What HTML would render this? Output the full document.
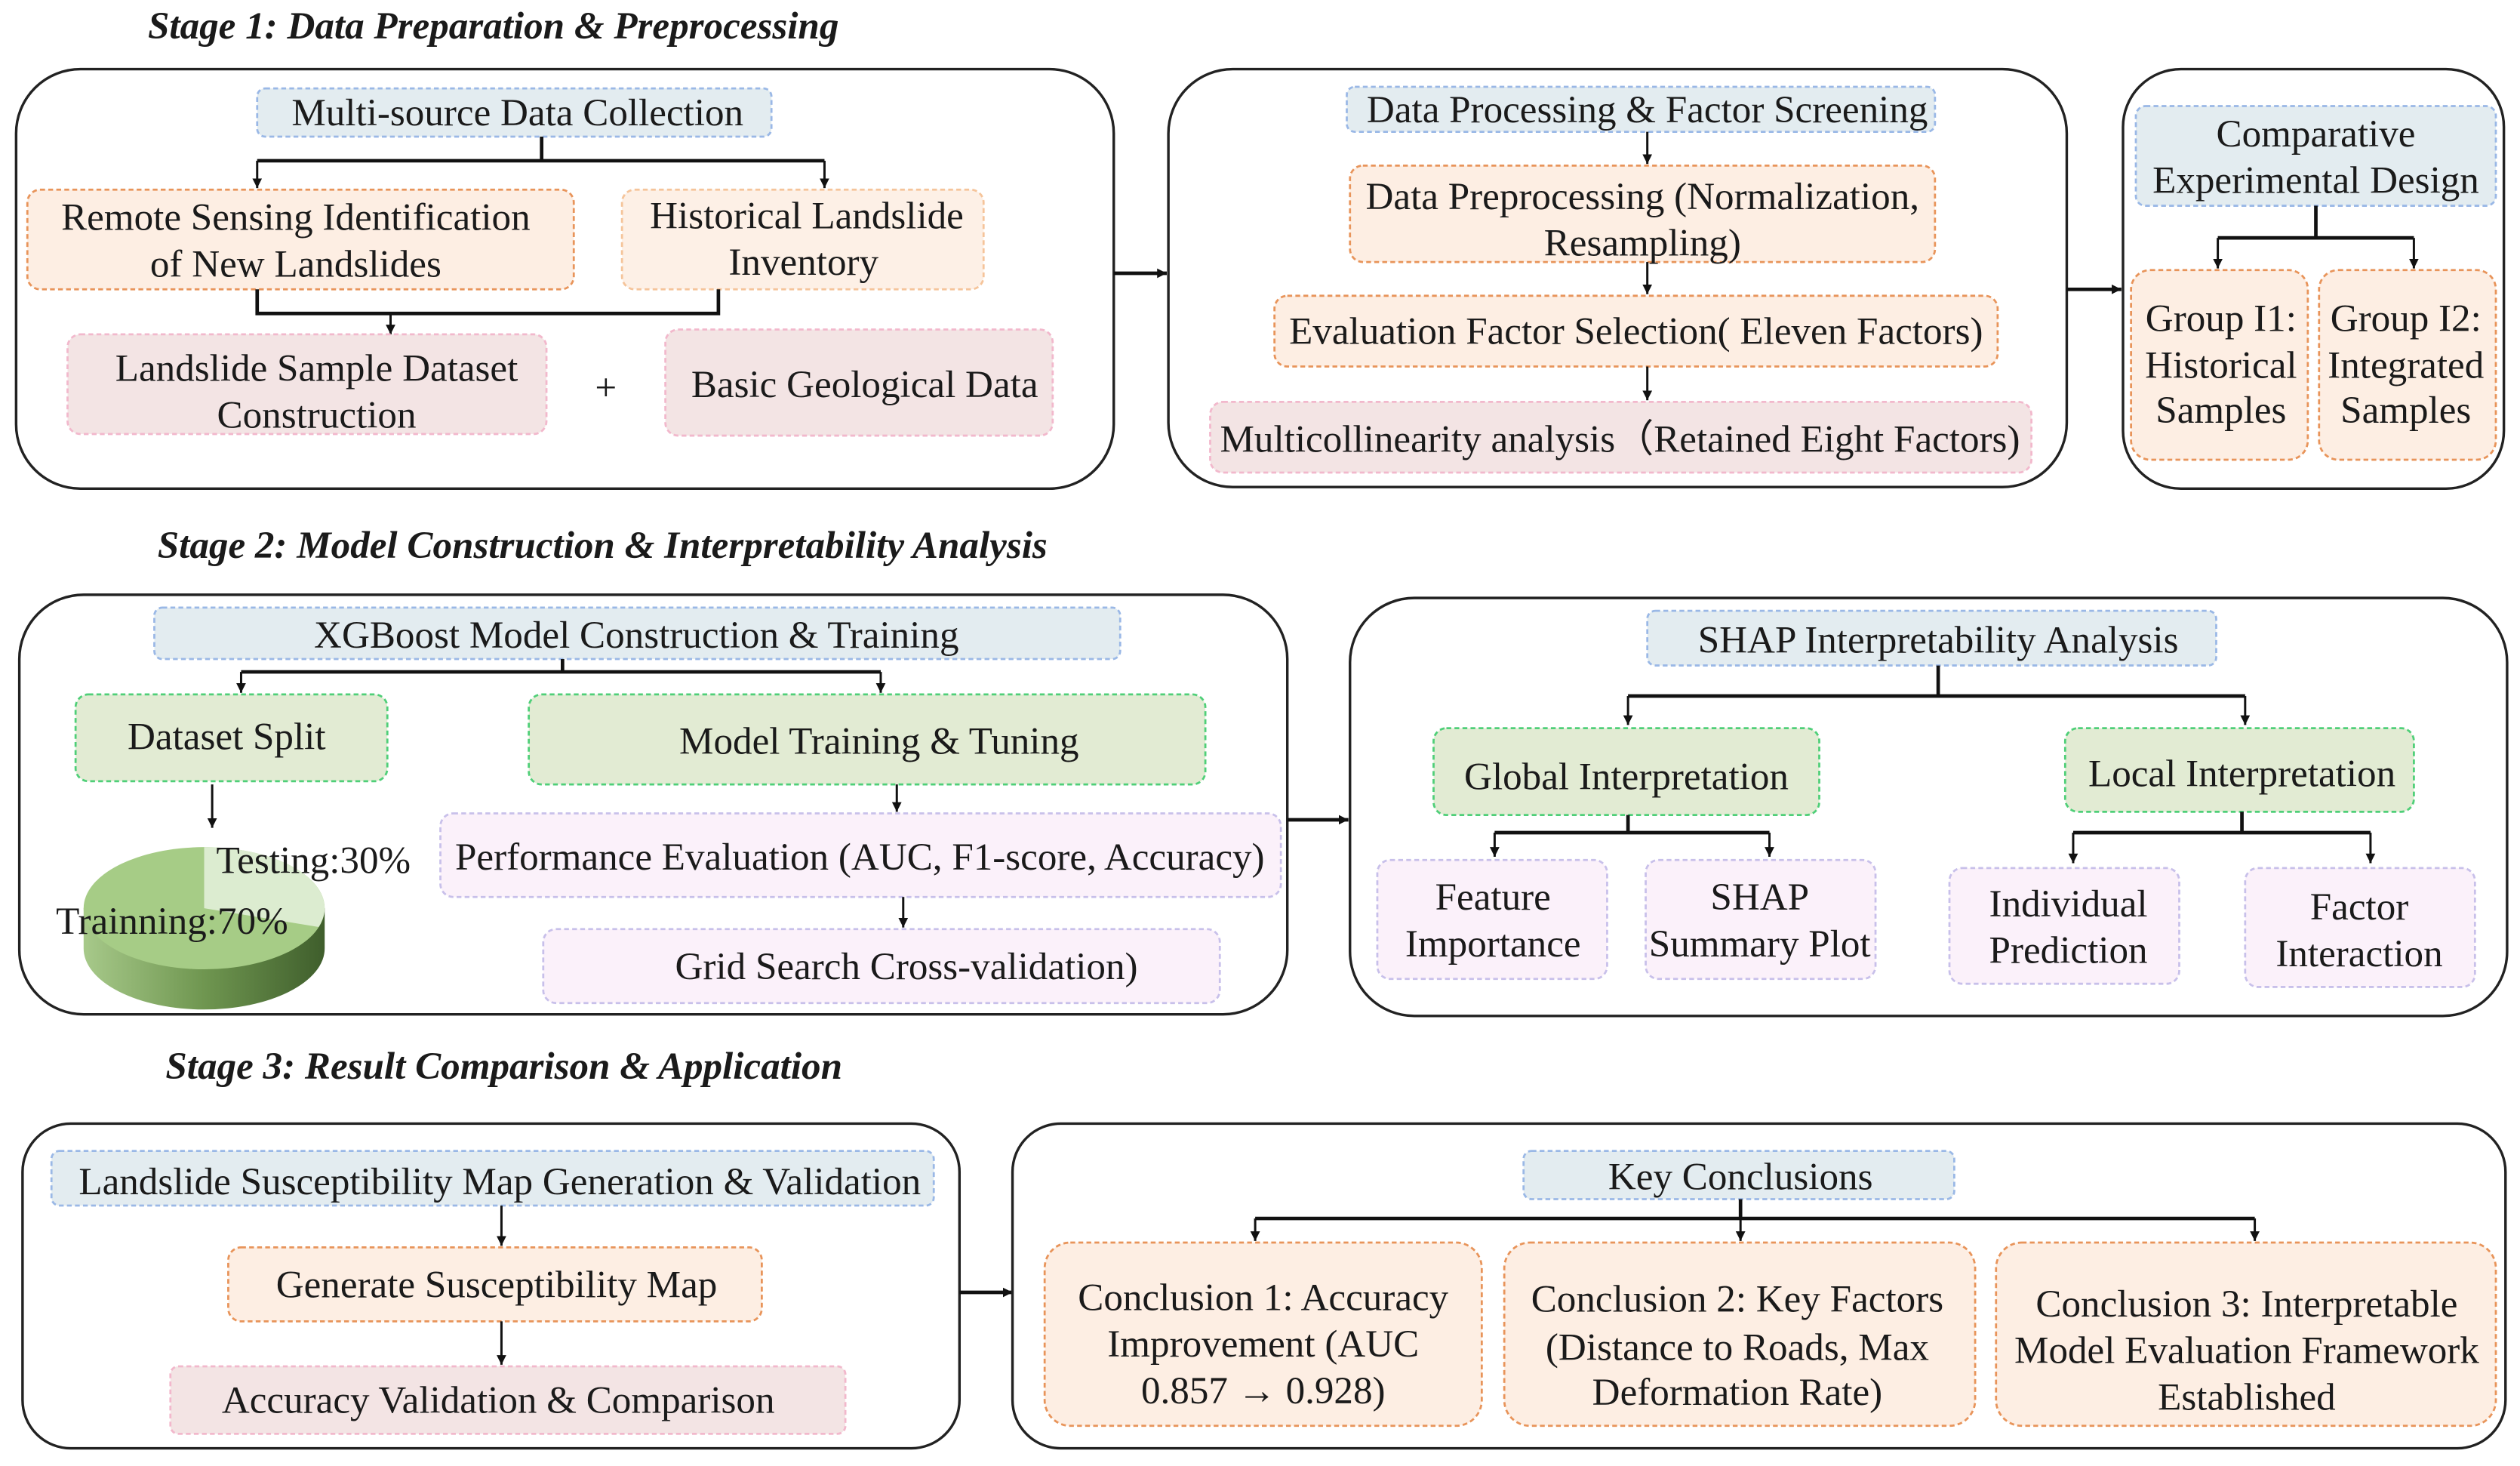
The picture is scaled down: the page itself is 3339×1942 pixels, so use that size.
<!DOCTYPE html>
<html><head><meta charset="utf-8"><style>
html,body{margin:0;padding:0;background:#fff}
svg{display:block}
text{font-family:"Liberation Serif",serif;font-size:24px;fill:#1a1a1a;text-anchor:middle}
.t{font-weight:bold;font-style:italic;text-anchor:start;font-size:24px}
.p{fill:none;stroke:#222;stroke-width:1.6}
.bl{fill:#e3ecf0;stroke:#9ab8e6;stroke-width:1.3;stroke-dasharray:3 2}
.or{fill:#fdeee3;stroke:#e8945a;stroke-width:1.3;stroke-dasharray:3 2}
.or2{fill:#fdf0e6;stroke:#f5c49a;stroke-width:1.3;stroke-dasharray:3 2}
.pk{fill:#f3e4e4;stroke:#f2b8cc;stroke-width:1.3;stroke-dasharray:3 2}
.gr{fill:#e2ebd3;stroke:#4fcf78;stroke-width:1.3;stroke-dasharray:3 2}
.li{fill:#fbf1fa;stroke:#c8c0ea;stroke-width:1.3;stroke-dasharray:3 2}
.l{fill:none;stroke:#111;stroke-width:2.2}
.a{fill:none;stroke:#111;stroke-width:1.4;marker-end:url(#ar)}
</style></head><body>
<svg width="3339" height="1942" viewBox="0 0 1568 912" xmlns="http://www.w3.org/2000/svg">
<defs>
<marker id="ar" markerWidth="8" markerHeight="8" refX="6" refY="3" orient="auto" markerUnits="userSpaceOnUse"><path d="M0,0 L6,3 L0,6 z" fill="#111"/></marker>
<linearGradient id="side" x1="0" x2="1"><stop offset="0" stop-color="#a7c98a"/><stop offset="0.5" stop-color="#6f9650"/><stop offset="1" stop-color="#3f5e2c"/></linearGradient>
</defs>

<!-- Stage 1 -->
<text class="t" x="92" y="24">Stage 1: Data Preparation &amp; Preprocessing</text>
<rect class="p" x="10" y="43" width="683" height="261" rx="40"/>
<rect class="bl" x="160" y="55" width="320" height="30" rx="5"/>
<text x="322" y="78">Multi-source Data Collection</text>
<path class="l" d="M337,85 V100 M160,100 H513"/>
<path class="a" d="M160,100 V117"/><path class="a" d="M513,100 V117"/>
<rect class="or" x="17" y="118" width="340" height="62" rx="8"/>
<text x="184" y="143">Remote Sensing Identification</text><text x="184" y="172">of New Landslides</text>
<rect class="or2" x="387" y="118" width="225" height="62" rx="8"/>
<text x="502" y="142">Historical Landslide</text><text x="500" y="171">Inventory</text>
<path class="l" d="M160,180 V195 H447 V180"/>
<path class="a" d="M243,195 V208"/>
<rect class="pk" x="42" y="208" width="298" height="62" rx="8"/>
<text x="197" y="237">Landslide Sample Dataset</text><text x="197" y="266">Construction</text>
<text x="377" y="249">+</text>
<rect class="pk" x="414" y="205" width="241" height="66" rx="8"/>
<text x="538" y="247">Basic Geological Data</text>
<path class="a" d="M693,170 H726" style="stroke-width:2.2"/>

<rect class="p" x="727" y="43" width="559" height="260" rx="40"/>
<rect class="bl" x="838" y="54" width="366" height="28" rx="5"/>
<text x="1025" y="76">Data Processing &amp; Factor Screening</text>
<path class="a" d="M1025,82 V102"/>
<rect class="or" x="840" y="103" width="364" height="60" rx="8"/>
<text x="1022" y="130">Data Preprocessing (Normalization,</text><text x="1022" y="159">Resampling)</text>
<path class="a" d="M1025,163 V183"/>
<rect class="or" x="793" y="184" width="450" height="44" rx="8"/>
<text x="1018" y="214">Evaluation Factor Selection( Eleven Factors)</text>
<path class="a" d="M1025,228 V249"/>
<rect class="pk" x="753" y="250" width="511" height="44" rx="8"/>
<text x="1008" y="281">Multicollinearity analysis（Retained Eight Factors)</text>
<path class="a" d="M1286,180 H1320" style="stroke-width:2.2"/>

<rect class="p" x="1321" y="43" width="237" height="261" rx="36"/>
<rect class="bl" x="1329" y="66" width="224" height="62" rx="6"/>
<text x="1441" y="91">Comparative</text><text x="1441" y="120">Experimental Design</text>
<path class="l" d="M1441,128 V148 M1380,148 H1502"/>
<path class="a" d="M1380,148 V167"/><path class="a" d="M1502,148 V167"/>
<rect class="or" x="1326" y="168" width="110" height="118" rx="12"/>
<text x="1382" y="206">Group I1:</text><text x="1382" y="235">Historical</text><text x="1382" y="263">Samples</text>
<rect class="or" x="1443" y="168" width="110" height="118" rx="12"/>
<text x="1497" y="206">Group I2:</text><text x="1497" y="235">Integrated</text><text x="1497" y="263">Samples</text>

<!-- Stage 2 -->
<text class="t" x="98" y="347">Stage 2: Model Construction &amp; Interpretability Analysis</text>
<rect class="p" x="12" y="370" width="789" height="261" rx="40"/>
<rect class="bl" x="96" y="378" width="601" height="32" rx="5"/>
<text x="396" y="403">XGBoost Model Construction &amp; Training</text>
<path class="l" d="M350,410 V418 M150,418 H548"/>
<path class="a" d="M150,418 V431"/><path class="a" d="M548,418 V431"/>
<rect class="gr" x="47" y="432" width="194" height="54" rx="8"/>
<text x="141" y="466">Dataset Split</text>
<rect class="gr" x="329" y="432" width="421" height="56" rx="8"/>
<text x="547" y="469">Model Training &amp; Tuning</text>
<path class="a" d="M132,488 V515"/>
<!-- pie -->
<path d="M52,565 V590 A75,38 0 0 0 202,590 V565 Z" fill="url(#side)"/>
<ellipse cx="127" cy="565" rx="75" ry="38" fill="#a6cc86"/>
<path d="M127,565 L127,527 A75,38 0 0 1 198.3,576.7 Z" fill="#dcecd0"/>
<text x="195" y="543">Testing:30%</text>
<text x="107" y="581">Trainning:70%</text>
<path class="a" d="M558,488 V505"/>
<rect class="li" x="274" y="506" width="523" height="52" rx="8"/>
<text x="535" y="541">Performance Evaluation (AUC, F1-score, Accuracy)</text>
<path class="a" d="M562,558 V577"/>
<rect class="li" x="338" y="578" width="421" height="46" rx="8"/>
<text x="564" y="609">Grid Search Cross-validation)</text>
<path class="a" d="M801,510 H839" style="stroke-width:2.2"/>

<rect class="p" x="840" y="372" width="720" height="260" rx="40"/>
<rect class="bl" x="1025" y="380" width="354" height="34" rx="5"/>
<text x="1206" y="406">SHAP Interpretability Analysis</text>
<path class="l" d="M1206,414 V433 M1013,433 H1397"/>
<path class="a" d="M1013,433 V451"/><path class="a" d="M1397,433 V451"/>
<rect class="gr" x="892" y="453" width="240" height="54" rx="8"/>
<text x="1012" y="491">Global Interpretation</text>
<rect class="gr" x="1285" y="453" width="217" height="52" rx="8"/>
<text x="1395" y="489">Local Interpretation</text>
<path class="l" d="M1013,507 V518 M930,518 H1101 M1395,505 V518 M1290,518 H1475"/>
<path class="a" d="M930,518 V533"/><path class="a" d="M1101,518 V533"/>
<path class="a" d="M1290,518 V537"/><path class="a" d="M1475,518 V537"/>
<rect class="li" x="857" y="535" width="143" height="74" rx="8"/>
<text x="929" y="566">Feature</text><text x="929" y="595">Importance</text>
<rect class="li" x="1024" y="535" width="143" height="74" rx="8"/>
<text x="1095" y="566">SHAP</text><text x="1095" y="595">Summary Plot</text>
<rect class="li" x="1213" y="540" width="143" height="72" rx="8"/>
<text x="1287" y="570">Individual</text><text x="1287" y="599">Prediction</text>
<rect class="li" x="1397" y="540" width="143" height="74" rx="8"/>
<text x="1468" y="572">Factor</text><text x="1468" y="601">Interaction</text>

<!-- Stage 3 -->
<text class="t" x="103" y="671">Stage 3: Result Comparison &amp; Application</text>
<rect class="p" x="14" y="699" width="583" height="202" rx="30"/>
<rect class="bl" x="32" y="716" width="549" height="34" rx="5"/>
<text x="311" y="743">Landslide Susceptibility Map Generation &amp; Validation</text>
<path class="a" d="M312,750 V775"/>
<rect class="or" x="142" y="776" width="332" height="46" rx="8"/>
<text x="309" y="807">Generate Susceptibility Map</text>
<path class="a" d="M312,822 V849"/>
<rect class="pk" x="106" y="850" width="420" height="42" rx="5"/>
<text x="310" y="879">Accuracy Validation &amp; Comparison</text>
<path class="a" d="M597,804 H630" style="stroke-width:2.2"/>

<rect class="p" x="630" y="699" width="929" height="202" rx="30"/>
<rect class="bl" x="948" y="716" width="268" height="30" rx="5"/>
<text x="1083" y="740">Key Conclusions</text>
<path class="l" d="M1083,746 V758 M781,758 H1403"/>
<path class="a" d="M781,758 V772"/><path class="a" d="M1083,758 V772"/><path class="a" d="M1403,758 V772"/>
<rect class="or" x="650" y="773" width="272" height="114" rx="16"/>
<text x="786" y="815">Conclusion 1: Accuracy</text><text x="786" y="844">Improvement (AUC</text><text x="786" y="873">0.857 → 0.928)</text>
<rect class="or" x="936" y="773" width="293" height="114" rx="16"/>
<text x="1081" y="816">Conclusion 2: Key Factors</text><text x="1081" y="846">(Distance to Roads, Max</text><text x="1081" y="874">Deformation Rate)</text>
<rect class="or" x="1242" y="773" width="311" height="114" rx="16"/>
<text x="1398" y="819">Conclusion 3: Interpretable</text><text x="1398" y="848">Model Evaluation Framework</text><text x="1398" y="877">Established</text>
</svg>
</body></html>
